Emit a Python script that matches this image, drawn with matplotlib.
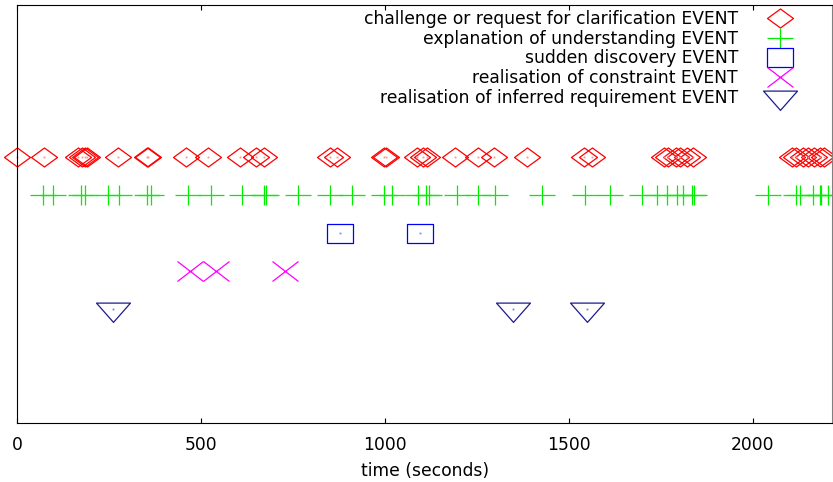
import matplotlib
matplotlib.use("Agg")
import matplotlib.pyplot as plt
from matplotlib.path import Path

# event times (seconds)
challenge_t = [0, 73, 165, 175, 183, 190, 274, 352, 356, 460, 519, 605, 648, 670,
               850, 870, 998, 1002, 1087, 1103, 1115, 1190, 1253, 1296, 1386, 1541,
               1564, 1759, 1770, 1792, 1803, 1822, 1837, 2107, 2119, 2137, 2150,
               2168, 2182, 2195]
explanation_t = [70, 97, 173, 184, 247, 276, 354, 365, 463, 528, 612, 671, 677, 763,
                 851, 911, 997, 1020, 1090, 1113, 1119, 1196, 1253, 1298, 1428, 1543,
                 1611, 1700, 1740, 1768, 1794, 1812, 1835, 1840, 2041, 2119, 2128,
                 2164, 2182, 2186, 2206]
discovery_t = [879, 1095]
constraint_t = [469, 540, 729]
inferred_t = [259, 1349, 1550]

labels = ["challenge or request for clarification EVENT",
          "explanation of understanding EVENT",
          "sudden discovery EVENT",
          "realisation of constraint EVENT",
          "realisation of inferred requirement EVENT"]
levels = [5, 4, 3, 2, 1]
xticks = [0, 500, 1000, 1500, 2000]

plt.rcParams['font.family'] = ['DejaVu Sans']
FS = 12.3

M, L, C = Path.MOVETO, Path.LINETO, Path.CLOSEPOLY
diamond = Path([(-13, 0), (0, 9.5), (13, 0), (0, -9.5), (0, 0)], [M, L, L, L, C])
plus = Path([(-13, 0), (13, 0), (0, -10), (0, 10)], [M, L, M, L])
square = Path([(-12.75, -9.5), (12.75, -9.5), (12.75, 9.5), (-12.75, 9.5), (0, 0)],
              [M, L, L, L, C])
cross = Path([(-13, -10), (13, 10), (-13, 10), (13, -10)], [M, L, M, L])
tri = Path([(-17, 6.4), (17, 6.4), (0, -12.9), (0, 0)], [M, L, L, C])


def msize(p):
    # marker size in points from half-extent in pixels (dpi 100)
    return 2 * abs(p.vertices).max() * 72 / 100


fig = plt.figure(figsize=(8.33, 4.82), dpi=100)
ax = fig.add_axes([17.3 / 833, (482 - 422.5) / 482, (832 - 17.3) / 833, (422.5 - 4.5) / 482])

series = [
    (challenge_t, diamond, "#ff0000", "#ff9090", True),
    (explanation_t, plus, "#00ee00", None, False),
    (discovery_t, square, "#0000ff", "#8080ff", True),
    (constraint_t, cross, "#ff00ff", None, False),
    (inferred_t, tri, "#1c1c8c", "#8080c0", True),
]

handles = []
for (ts, mk, col, dotcol, dot), lev, lab in zip(series, levels, labels):
    h, = ax.plot(ts, [lev] * len(ts), linestyle="none", marker=mk, markersize=msize(mk),
                 markerfacecolor="none", markeredgecolor=col, markeredgewidth=0.9,
                 clip_on=False, label=lab)
    handles.append(h)
    if dot:
        ax.plot(ts, [lev] * len(ts), linestyle="none", marker="s", markersize=1.3,
                markerfacecolor=dotcol, markeredgewidth=0, clip_on=False)

ax.set_xlim(0, 2216)
ax.set_ylim(-2, 9)
ax.set_yticks([])
ax.set_xticks(xticks)
ax.set_xticklabels([str(v) for v in xticks], fontsize=FS)
ax.tick_params(axis="x", direction="in", length=3.5, width=0.8, top=True, pad=10)
for s in ax.spines.values():
    s.set_linewidth(0.8)
ax.spines["right"].set_color("#808080")
ax.set_xlabel("time (seconds)", fontsize=FS, labelpad=5.5)

ax.legend(handles, labels, loc="upper right", bbox_to_anchor=(797.4 / 833, 1 - 10 / 482),
          bbox_transform=fig.transFigure, frameon=False, markerfirst=False, numpoints=1,
          handlelength=2, handletextpad=1.47, labelspacing=0.1, borderpad=0,
          borderaxespad=0, prop={"size": FS})

fig.savefig("out.png", dpi=100)
